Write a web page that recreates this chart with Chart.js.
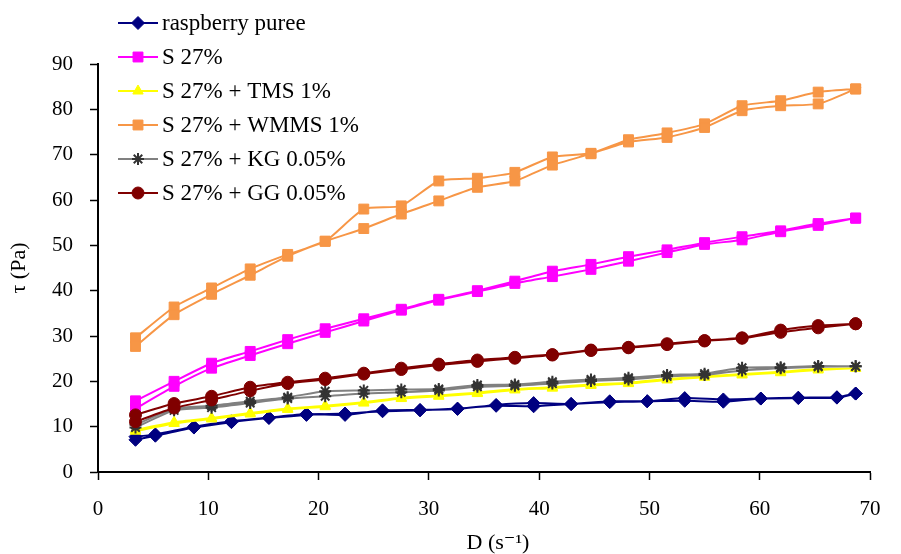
<!DOCTYPE html>
<html>
<head>
<meta charset="utf-8">
<script src="https://cdn.jsdelivr.net/npm/chart.js@4.4.1/dist/chart.umd.min.js"></script>
<style>
    html, body { margin: 0; padding: 0; background: #fff; }
    #wrap { width: 901px; height: 554px; }
</style>
</head>
<body>
<div id="wrap"><canvas id="flowChart" width="901" height="554"></canvas></div>
<script>
// shear rate points (s-1)
const shearRate = [3.4, 6.9, 10.3, 13.8, 17.2, 20.6, 24.1, 27.5, 30.9, 34.4, 37.8, 41.2, 44.7, 48.1, 51.6, 55.0, 58.4, 61.9, 65.3, 68.7];
const shearRatePuree = [3.4, 5.2, 8.7, 12.1, 15.5, 18.9, 22.4, 25.8, 29.2, 32.6, 36.1, 39.5, 42.9, 46.4, 49.8, 53.2, 56.7, 60.1, 63.5, 67.0, 68.7];

// shear stress (Pa), up and down curves
const pureeUp   = [7.8, 8.3, 10.0, 11.2, 12.0, 12.8, 12.6, 13.6, 13.7, 13.9, 14.8, 15.2, 15.0, 15.6, 15.6, 15.7, 15.5, 16.2, 16.3, 16.4, 17.3];
const pureeDown = [7.1, 8.0, 9.8, 11.0, 11.9, 12.6, 12.9, 13.4, 13.6, 14.0, 14.6, 14.5, 15.0, 15.4, 15.6, 16.3, 16.0, 16.2, 16.4, 16.5, 17.3];
const s27Up     = [15.7, 20.0, 24.0, 26.6, 29.2, 31.6, 33.8, 35.9, 38.1, 40.0, 42.1, 44.3, 45.8, 47.5, 49.0, 50.6, 51.9, 53.2, 54.8, 56.0];
const s27Down   = [14.0, 18.9, 22.9, 25.7, 28.3, 30.8, 33.3, 35.7, 37.9, 39.8, 41.6, 43.1, 44.7, 46.5, 48.4, 50.2, 51.2, 53.0, 54.4, 56.0];
const tmsUp     = [9.3, 11.0, 11.9, 13.0, 14.0, 14.6, 15.4, 16.4, 16.9, 17.5, 18.3, 18.7, 19.3, 19.7, 20.5, 21.1, 21.6, 22.1, 22.7, 22.9];
const tmsDown   = [9.0, 10.7, 11.7, 12.8, 13.8, 14.4, 15.2, 16.2, 16.7, 17.3, 18.1, 18.5, 19.1, 19.5, 20.3, 20.9, 21.4, 21.9, 22.5, 22.9];
const wmmsUp    = [29.6, 36.4, 40.6, 44.8, 48.0, 50.9, 58.0, 58.7, 64.2, 64.8, 66.1, 69.5, 70.3, 73.3, 74.8, 76.8, 80.8, 81.9, 83.8, 84.5];
const wmmsDown  = [27.7, 34.7, 39.2, 43.4, 47.6, 50.9, 53.7, 56.9, 59.8, 62.8, 64.2, 67.7, 70.2, 72.8, 73.8, 76.0, 79.7, 80.8, 81.2, 84.5];
const kgUp      = [10.4, 14.0, 14.6, 15.6, 16.5, 17.8, 18.0, 18.2, 18.3, 19.2, 19.3, 19.9, 20.4, 20.8, 21.4, 21.7, 23.0, 23.1, 23.4, 23.3];
const kgDown    = [9.8, 13.6, 14.2, 15.2, 16.2, 16.7, 17.3, 17.6, 18.0, 18.8, 19.0, 19.5, 20.1, 20.4, 21.1, 21.4, 22.4, 22.9, 23.2, 23.3];
const ggUp      = [12.6, 15.1, 16.7, 18.7, 19.8, 20.7, 21.8, 22.9, 23.8, 24.7, 25.3, 25.9, 26.9, 27.5, 28.3, 29.0, 29.6, 31.3, 32.3, 32.7];
const ggDown    = [11.1, 14.1, 15.9, 17.9, 19.5, 20.4, 21.6, 22.6, 23.6, 24.4, 25.1, 25.8, 26.8, 27.4, 28.1, 28.9, 29.5, 30.8, 31.8, 32.7];

const xTicks = [0, 10, 20, 30, 40, 50, 60, 70];
const yTicks = [0, 10, 20, 30, 40, 50, 60, 70, 80, 90];

const serif = '"Liberation Serif", "DejaVu Serif", serif';

// up curve then back down, so each sample is one closed loop
function hysteresis(xs, up, down) {
    const pts = xs.map((x, i) => ({ x: x, y: up[i] }));
    for (let i = xs.length - 1; i >= 0; i--) {
        pts.push({ x: xs[i], y: down[i] });
    }
    return pts;
}

function series(label, data, line, fill, edge, style, radius, order) {
    return {
        label: label,
        data: data,
        borderColor: line,
        borderWidth: 2,
        pointStyle: style,
        pointRadius: radius,
        pointBackgroundColor: fill,
        pointBorderColor: edge,
        pointBorderWidth: style === 'star' ? 2 : 1,
        tension: 0.2,
        order: order
    };
}

// legend in the top-left corner + the x axis title, like the original
const cornerLegend = {
    id: 'cornerLegend',
    afterDraw(chart) {
        const ctx = chart.ctx;
        chart.data.datasets.forEach((ds, i) => {
            const y = 23 + i * 34;
            ctx.save();
            ctx.strokeStyle = ds.borderColor;
            ctx.lineWidth = 2;
            ctx.beginPath();
            ctx.moveTo(118, y);
            ctx.lineTo(158, y);
            ctx.stroke();
            ctx.fillStyle = ds.pointBackgroundColor;
            ctx.strokeStyle = ds.pointBorderColor;
            ctx.lineWidth = ds.pointBorderWidth;
            Chart.helpers.drawPoint(ctx, {
                pointStyle: ds.pointStyle,
                radius: ds.pointRadius,
                borderWidth: ds.pointBorderWidth,
                rotation: 0
            }, 138, y);
            ctx.fillStyle = '#000';
            ctx.font = '23px ' + serif;
            ctx.textBaseline = 'middle';
            ctx.fillText(ds.label, 162, y + 1);
            ctx.restore();
        });
        ctx.save();
        ctx.fillStyle = '#000';
        ctx.font = '22px ' + serif;
        ctx.textAlign = 'center';
        ctx.textBaseline = 'middle';
        ctx.fillText('D (s\u207B\u00B9)', 498, 543);
        ctx.restore();
    }
};

Chart.defaults.font.family = serif;
Chart.defaults.color = '#000';

const ctx = document.getElementById('flowChart').getContext('2d');
const flowChart = new Chart(ctx, {
    type: 'line',
    data: {
        datasets: [
            series('raspberry puree', hysteresis(shearRatePuree, pureeUp, pureeDown), '#000080', '#000080', '#000080', 'rectRot', 6.5, 6),
            series('S 27%', hysteresis(shearRate, s27Up, s27Down), '#FF00FF', '#FF00FF', '#FF00FF', 'rect', 7, 5),
            series('S 27% + TMS 1%', hysteresis(shearRate, tmsUp, tmsDown), '#FFFF00', '#FFFF00', '#FFFF00', 'triangle', 6, 4),
            series('S 27% + WMMS 1%', hysteresis(shearRate, wmmsUp, wmmsDown), '#F79646', '#F79646', '#F79646', 'rect', 7, 3),
            series('S 27% + KG 0.05%', hysteresis(shearRate, kgUp, kgDown), '#808080', '#333333', '#333333', 'star', 6, 2),
            series('S 27% + GG 0.05%', hysteresis(shearRate, ggUp, ggDown), '#800000', '#800000', '#800000', 'circle', 6, 1)
        ]
    },
    options: {
        responsive: false,
        animation: false,
        layout: { padding: { left: 0, top: 64, right: 31, bottom: 0 } },
        plugins: {
            legend: { display: false },
            tooltip: { enabled: false }
        },
        scales: {
            x: {
                type: 'linear',
                min: 0,
                max: 70,
                afterBuildTicks(scale) { scale.ticks = xTicks.map(v => ({ value: v })); },
                afterFit(scale) { scale.height = 82; },
                ticks: { padding: 17, font: { size: 21 }, color: '#000' },
                grid: { drawOnChartArea: false, drawTicks: true, tickLength: 8, tickColor: '#000', tickWidth: 1.5 },
                border: { display: true, color: '#000', width: 2 },
                title: { display: false }
            },
            y: {
                type: 'linear',
                min: 0,
                max: 90,
                afterBuildTicks(scale) { scale.ticks = yTicks.map(v => ({ value: v })); },
                afterFit(scale) { scale.width = 98; },
                ticks: { padding: 17, font: { size: 21 }, color: '#000' },
                grid: { drawOnChartArea: false, drawTicks: true, tickLength: 8, tickColor: '#000', tickWidth: 1.5 },
                border: { display: true, color: '#000', width: 2 },
                title: { display: true, text: '\u03C4 (Pa)', font: { size: 22 }, color: '#000', padding: { top: 6, bottom: 0 } }
            }
        }
    },
    plugins: [cornerLegend]
});
</script>
</body>
</html>
